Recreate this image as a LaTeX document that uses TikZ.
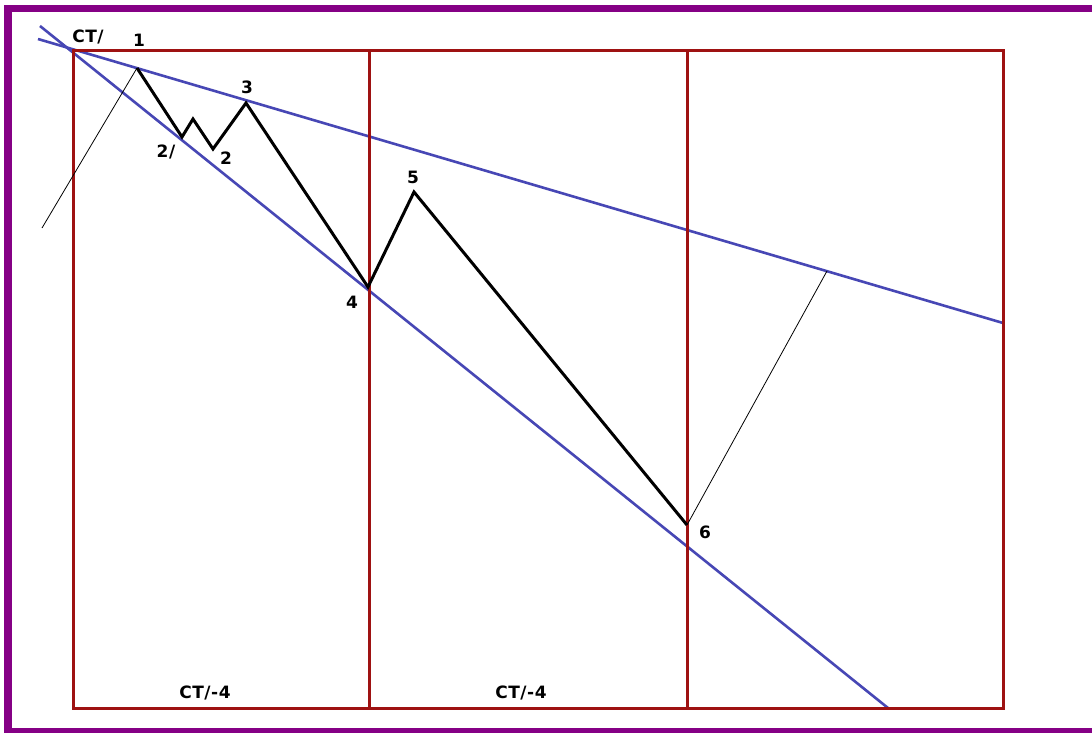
\documentclass[tikz,border=0pt]{standalone}
\usepackage{fontspec}
\newfontfamily\lblfont{DejaVu Sans}[LetterSpace=3.0]
\definecolor{framecol}{HTML}{850085}
\definecolor{boxcol}{HTML}{9E1212}
\definecolor{trendcol}{HTML}{4747B5}

\begin{document}
\begin{tikzpicture}[x=1pt,y=-1pt,
  wave/.style={black,line width=3pt,line join=miter},
  guide/.style={black,line width=0.8pt},
  trend/.style={trendcol,line width=2.6pt},
  panel/.style={boxcol,line width=3pt},
  lbl/.style={font=\lblfont\bfseries\fontsize{17}{17}\selectfont,inner sep=0pt}]
  \useasboundingbox (0,0) rectangle (1092,733);
  \fill[white] (0,0) rectangle (1092,733);
  \begin{scope}
    \clip (0,0) rectangle (1092,733);
    \draw[framecol,line width=7.5pt] (8,8.5) rectangle (1110,731.5);
  \end{scope}
  % trend lines
  \coordinate (ua) at (38,39);  \coordinate (ub) at (1003,323);
  \coordinate (la) at (40,26);  \coordinate (lb) at (888,708);
  \draw[trend] (ua) -- (ub);
  \draw[trend] (la) -- (lb);
  % panels
  \draw[panel] (73,51) rectangle (1003,708);
  \foreach \x in {369,687} \draw[panel] (\x,51) -- (\x,708);
  % wave points
  \coordinate (p1) at (137,68);
  \coordinate (p2a) at (182,137);
  \coordinate (px) at (193,119);
  \coordinate (p2) at (213,149);
  \coordinate (p3) at (246,103);
  \coordinate (p4) at (368,287);
  \coordinate (p5) at (414,192);
  \coordinate (p6) at (687,525);
  \coordinate (g0) at (42,228);
  \coordinate (g1) at (827,271);
  \draw[guide] (g0) -- (p1);
  \draw[guide] (p6) -- (g1);
  \draw[wave] (p1) -- (p2a) -- (px) -- (p2) -- (p3) -- (p4) -- (p5) -- (p6);
  % labels
  \node[lbl] (lct) at (88,37) {CT/};
  \node[lbl] (l1) at (139,40) {1};
  \node[lbl] (l2a) at (166,152) {2/};
  \node[lbl] (l2) at (226,158) {2};
  \node[lbl] (l3) at (247,87) {3};
  \node[lbl] (l4) at (352,302) {4};
  \node[lbl] (l5) at (413,177) {5};
  \node[lbl] (l6) at (705,532) {6};
  \node[lbl] (lseg1) at (205,693) {CT/-4};
  \node[lbl] (lseg2) at (521,693) {CT/-4};
\end{tikzpicture}
\end{document}
